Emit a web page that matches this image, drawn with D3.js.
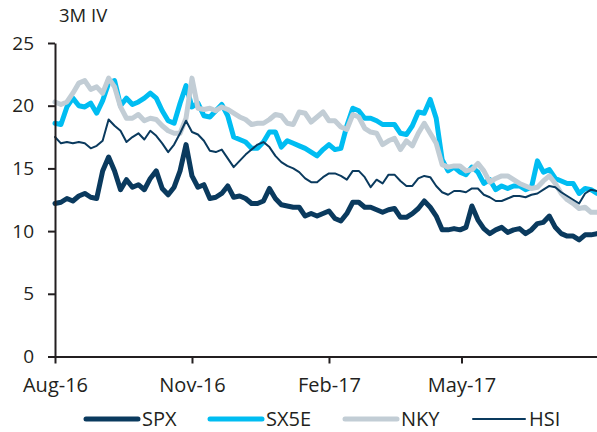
<!DOCTYPE html>
<html>
<head>
<meta charset="utf-8">
<script src="https://cdn.jsdelivr.net/npm/d3@7"></script>
<style>
  html, body { margin: 0; padding: 0; background: #fff; }
  svg text { font-family: "Open Sans", "DejaVu Sans", sans-serif; fill: #231f20; }
</style>
</head>
<body>
<div id="chart"></div>
<script>
// 3M implied vol, sampled every 4 days from 1 Aug 2016
const startDate = new Date(2016, 7, 1);
const endDate = new Date(2017, 6, 31);
const stepDays = 4;

const spx = [
  12.2, 12.3, 12.6, 12.4, 12.8, 13.0, 12.7, 12.6, 14.8, 15.9,
  14.8, 13.3, 14.1, 13.5, 13.7, 13.3, 14.2, 14.8, 13.4, 12.9,
  13.5, 14.8, 16.9, 14.4, 13.5, 13.7, 12.6, 12.7, 13.0, 13.6,
  12.7, 12.8, 12.6, 12.2, 12.2, 12.4, 13.4, 12.6, 12.1, 12.0,
  11.9, 11.9, 11.2, 11.4, 11.2, 11.4, 11.6, 11.0, 10.8, 11.4,
  12.3, 12.3, 11.9, 11.9, 11.7, 11.5, 11.7, 11.8, 11.1, 11.1,
  11.4, 11.8, 12.4, 11.9, 11.2, 10.1, 10.1, 10.2, 10.1, 10.3,
  12.0, 10.9, 10.2, 9.8, 10.1, 10.3, 9.9, 10.1, 10.2, 9.8,
  10.1, 10.6, 10.7, 11.2, 10.3, 9.8, 9.6, 9.6, 9.3, 9.7,
  9.7, 9.8
];
const sx5e = [
  18.6, 18.5, 19.9, 20.6, 20.0, 19.9, 20.2, 19.4, 20.4, 21.8,
  22.0, 20.0, 20.6, 20.1, 20.3, 20.6, 21.0, 20.6, 19.6, 18.8,
  18.6, 20.2, 21.6, 19.9, 20.2, 19.2, 19.1, 19.6, 20.1, 19.2,
  17.5, 17.3, 17.1, 16.6, 16.6, 17.1, 17.9, 17.9, 16.7, 17.2,
  17.0, 16.8, 16.6, 16.3, 16.0, 16.5, 16.9, 16.5, 16.6, 18.4,
  19.8, 19.6, 19.0, 19.0, 18.8, 18.5, 18.5, 18.5, 17.8, 17.7,
  18.4, 19.5, 19.4, 20.5, 19.0, 15.7, 14.8, 15.1, 14.7, 14.5,
  15.1, 14.7, 13.8, 14.1, 13.3, 13.6, 13.4, 13.6, 13.6, 13.3,
  13.5, 15.6, 14.7, 14.9, 14.2, 14.0, 13.8, 13.8, 13.0, 13.4,
  13.3, 13.0
];
const nky = [
  20.3, 20.1, 20.3, 21.0, 21.8, 22.0, 21.3, 21.5, 21.0, 22.2,
  21.5, 19.9, 19.0, 19.0, 19.3, 18.8, 19.0, 18.9, 18.4, 18.0,
  17.8, 17.8, 19.0, 22.2, 19.8, 19.7, 19.8, 19.6, 19.9, 19.7,
  19.4, 19.1, 18.9, 18.5, 18.6, 18.6, 18.9, 19.3, 19.2, 18.6,
  18.5, 19.5, 19.4, 18.7, 19.1, 19.5, 18.8, 18.8, 18.3, 18.1,
  19.3, 19.1, 18.2, 17.9, 17.8, 16.9, 17.2, 17.4, 16.5, 17.2,
  16.8, 17.8, 18.6, 17.8, 17.0, 15.3, 15.1, 15.2, 15.2, 14.8,
  14.9, 15.4, 14.8, 13.9, 14.2, 14.4, 14.4, 14.1, 13.8, 13.6,
  13.4, 13.5, 14.0, 14.4, 13.8, 13.0, 12.5, 12.2, 11.8, 11.9,
  11.5, 11.5
];
const hsi = [
  17.5, 17.0, 17.1, 17.0, 17.1, 17.0, 16.6, 16.8, 17.2, 18.9,
  18.4, 18.0, 17.1, 17.5, 17.8, 17.3, 18.0, 17.6, 17.0, 16.3,
  16.9, 17.8, 18.8, 17.9, 17.7, 17.2, 16.4, 16.3, 16.5, 15.8,
  15.1, 15.6, 16.1, 16.5, 16.9, 17.1, 16.7, 16.0, 15.5, 15.2,
  15.0, 14.7, 14.2, 13.9, 13.9, 14.3, 14.6, 14.6, 14.4, 14.1,
  14.8, 14.8, 14.3, 13.5, 14.1, 13.8, 14.5, 14.5, 14.0, 13.6,
  13.6, 14.2, 14.4, 14.3, 13.6, 13.1, 12.9, 13.2, 13.2, 13.1,
  13.4, 13.4, 12.9, 12.7, 12.4, 12.4, 12.6, 12.8, 12.8, 12.7,
  12.9, 13.0, 13.3, 13.6, 13.5, 13.1, 12.8, 12.5, 12.2, 13.0,
  13.3, 13.2
];

const seriesNames = [`SPX`, `SX5E`, `NKY`, `HSI`];
const seriesValues = [spx, sx5e, nky, hsi];
const seriesColors = [`#0a3a5e`, `#00bdf2`, `#c2cdd5`, `#0a3a5e`];
const seriesWidths = [5, 5, 5, 2];

const yTicks = [0, 5, 10, 15, 20, 25];
const xTicks = [new Date(2016, 7, 1), new Date(2016, 10, 1), new Date(2017, 1, 1), new Date(2017, 4, 1)];

const width = 597;
const height = 432;
const margin = { top: 43, right: 0, bottom: 75.5, left: 55 };

const dates = d3.range(spx.length).map((i) => d3.timeDay.offset(startDate, i * stepDays));

const svg = d3.select(`#chart`)
  .append(`svg`)
  .attr(`width`, width)
  .attr(`height`, height);

const xScale = d3.scaleTime()
  .domain([startDate, endDate])
  .range([margin.left, width - margin.right]);
const yScale = d3.scaleLinear()
  .domain([0, 25])
  .range([height - margin.bottom, margin.top]);

// title
svg.append(`text`)
  .attr(`x`, 59)
  .attr(`y`, 22)
  .style(`font-size`, `18.5px`)
  .text(`3M IV`);

// lines
const line = d3.line()
  .x((d, i) => xScale(dates[i]))
  .y((d) => yScale(d));

seriesValues.forEach((vals, k) => {
  svg.append(`path`)
    .datum(vals)
    .attr(`d`, line)
    .attr(`fill`, `none`)
    .attr(`stroke`, seriesColors[k])
    .attr(`stroke-width`, seriesWidths[k])
    .attr(`stroke-linejoin`, `round`)
    .attr(`stroke-linecap`, `round`);
});

// y axis
const yAxis = svg.append(`g`)
  .attr(`transform`, `translate(${margin.left},0)`)
  .call(d3.axisLeft(yScale).tickValues(yTicks).tickSize(7).tickPadding(14).tickSizeOuter(0));
yAxis.select(`.domain`).attr(`stroke`, `#231f20`).attr(`stroke-width`, 2);
yAxis.selectAll(`.tick line`).attr(`stroke`, `#231f20`).attr(`stroke-width`, 2);
yAxis.selectAll(`.tick text`).style(`font-size`, `19px`).attr(`fill`, `#231f20`);

// x axis
const xAxis = svg.append(`g`)
  .attr(`transform`, `translate(0,${height - margin.bottom})`)
  .call(d3.axisBottom(xScale).tickValues(xTicks).tickFormat(d3.timeFormat(`%b-%y`))
    .tickSize(7).tickPadding(14).tickSizeOuter(0));
xAxis.select(`.domain`).attr(`stroke`, `#231f20`).attr(`stroke-width`, 2);
xAxis.selectAll(`.tick line`).attr(`stroke`, `#231f20`).attr(`stroke-width`, 2);
xAxis.selectAll(`.tick text`).style(`font-size`, `20px`).attr(`fill`, `#231f20`);

// legend
const legendX = [86, 210, 345, 473];
const legend = svg.append(`g`).attr(`transform`, `translate(0,419)`);
seriesNames.forEach((name, k) => {
  const g = legend.append(`g`).attr(`transform`, `translate(${legendX[k]},0)`);
  g.append(`line`)
    .attr(`x1`, 0).attr(`x2`, 52)
    .attr(`stroke`, seriesColors[k])
    .attr(`stroke-width`, seriesWidths[k])
    .attr(`stroke-linecap`, `round`);
  g.append(`text`)
    .attr(`x`, 56)
    .attr(`y`, 7)
    .style(`font-size`, `20px`)
    .text(name);
});
</script>
</body>
</html>
